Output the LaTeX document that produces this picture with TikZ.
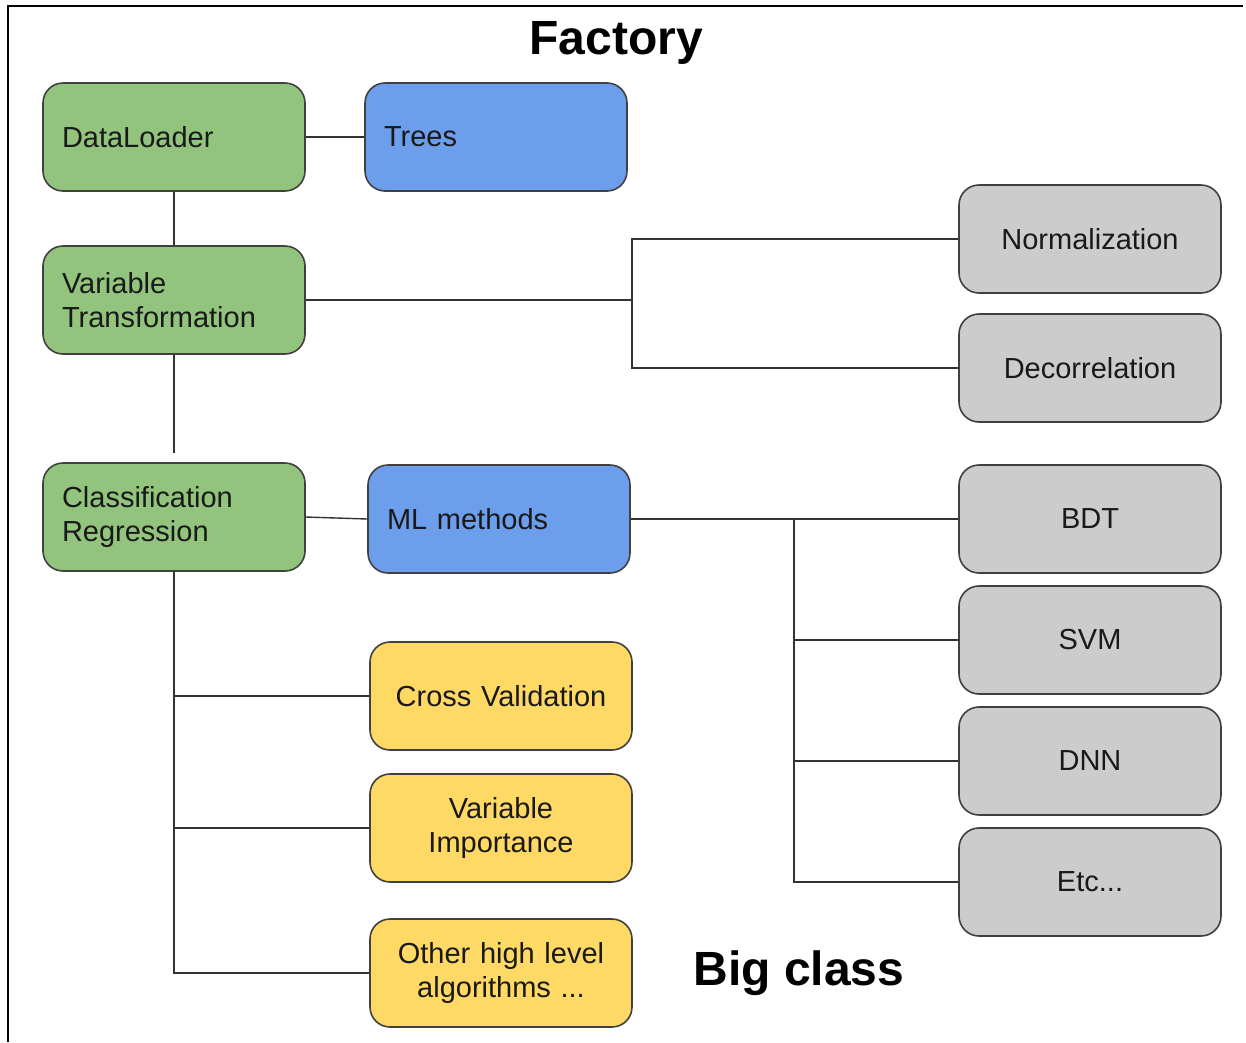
\documentclass[tikz,border=0pt]{standalone}
\usepackage{fontspec}
\setmainfont{Liberation Sans}
\begin{document}
\begin{tikzpicture}[x=1pt,y=-1pt,
  box/.style={draw=black!75, line width=1.6pt, rounded corners=20pt, minimum height=108pt,
    text width=224pt, inner xsep=19pt, inner ysep=0pt, font=\fontsize{29}{34}\selectfont, text=black!90},
  lbox/.style={box, align=left},
  cbox/.style={box, align=center},
  green/.style={fill={rgb,255:red,147;green,196;blue,125}},
  blue/.style={fill={rgb,255:red,109;green,158;blue,235}},
  gray/.style={fill={rgb,255:red,204;green,204;blue,204}},
  yellow/.style={fill={rgb,255:red,255;green,217;blue,102}},
  conn/.style={draw=black!80, line width=1.4pt},
  title/.style={font=\fontsize{48}{56}\selectfont\bfseries, text=black}
]
\useasboundingbox (0,0) rectangle (1246,1042);
\draw[line width=1.6pt] (8,1042) -- (8,6) -- (1243,6);

\node[title] (factory) at (616,43) {Factory};
\node[title] (bigclass) at (799,973) {Big class};

\node[lbox,green] (dl) at (174,137) {\raisebox{-2pt}{DataLoader}};
\node[lbox,blue] (trees) at (496,137) {\raisebox{-2pt}{Trees}};
\node[lbox,green] (vt) at (174,300) {Variable\\Transformation};
\node[cbox,gray] (norm) at (1090,239) {\raisebox{-2pt}{Normalization}};
\node[cbox,gray] (dec) at (1090,368) {\raisebox{-2pt}{Decorrelation}};
\node[lbox,green] (cr) at (174,517) {Classification\\Regression};
\node[lbox,blue] (ml) at (499,519) {ML methods};
\node[cbox,gray] (bdt) at (1090,519) {\raisebox{-2pt}{BDT}};
\node[cbox,gray] (svm) at (1090,640) {\raisebox{-2pt}{SVM}};
\node[cbox,gray] (dnn) at (1090,761) {\raisebox{-2pt}{DNN}};
\node[cbox,gray] (etc) at (1090,882) {\raisebox{-2pt}{Etc...}};
\node[cbox,yellow] (cv) at (501,696) {Cross Validation};
\node[cbox,yellow] (vi) at (501,828) {Variable\\Importance};
\node[cbox,yellow] (other) at (501,973) {Other high level\\algorithms ...};

\coordinate (vtj) at (632,300);
\coordinate (vtend) at (174,453);
\coordinate (mlj) at (794,519);

\draw[conn] (dl.east) -- (trees.west);
\draw[conn] (dl.south) -- (vt.north);
\draw[conn] (vt.east) -- (vtj);
\draw[conn] (norm.west) -| (vtj);
\draw[conn] (dec.west) -| (vtj);
\draw[conn] (vt.south) -- (vtend);
\draw[conn] (cr.east) -- (ml.west);
\draw[conn] (cr.south) |- (cv.west);
\draw[conn] (cr.south) |- (vi.west);
\draw[conn] (cr.south) |- (other.west);
\draw[conn] (ml.east) -- (bdt.west);
\draw[conn] (svm.west) -| (mlj);
\draw[conn] (dnn.west) -| (mlj);
\draw[conn] (etc.west) -| (mlj);
\end{tikzpicture}
\end{document}
